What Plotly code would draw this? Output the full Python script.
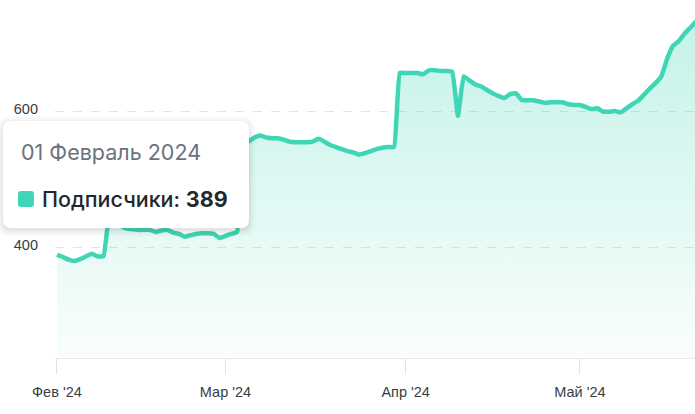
import plotly.graph_objects as go
import pandas as pd

# ---- data ----
start_date = "2024-02-01"
feb_values = [389, 386, 382, 380, 383, 387, 391, 387, 387, 445, 440, 432, 428, 427, 426,
              426, 426, 423, 425, 426, 422, 420, 416, 418, 420, 421, 421, 420, 414]
mar_values = [417, 420, 423, 553, 556, 562, 565, 562, 561, 561, 559, 556, 555, 555, 555,
              556, 560, 556, 551, 548, 545, 542, 540, 537, 539, 542, 545, 547, 548, 548, 657]
apr_values = [657, 657, 657, 655, 661, 661, 660, 660, 659, 594, 652, 646, 640, 637, 632,
              627, 623, 620, 626, 627, 617, 617, 617, 615, 613, 614, 614, 614, 611, 610]
may_values = [610, 607, 604, 605, 600, 600, 601, 599, 605, 611, 616, 625, 634, 642, 652,
              678, 697, 704, 715, 724, 733]
subscribers = feb_values + mar_values + apr_values + may_values
dates = pd.date_range(start_date, periods=len(subscribers), freq="D")

tick_dates = ["2024-02-01", "2024-03-01", "2024-04-01", "2024-05-01"]
tick_labels = ["Фев '24", "Мар '24", "Апр '24", "Май '24"]
series_name = "Подписчики"
tooltip_title = "01 Февраль 2024"

LINE = "rgb(62,214,181)"
W, H = 695, 414
ML, MR, MT, MB = 55, 0, 0, 56
PW, PH = W - ML - MR, H - MT - MB


def px(x):
    return (x - ML) / PW


def py(y):
    return (MT + PH - y) / PH


def rrect(x0, y0, x1, y1, r):
    rx, ry = r / PW, r / PH
    X0, X1, Y0, Y1 = px(x0), px(x1), py(y0), py(y1)  # Y0 top, Y1 bottom
    return (f"M {X0+rx},{Y0} L {X1-rx},{Y0} Q {X1},{Y0} {X1},{Y0-ry} "
            f"L {X1},{Y1+ry} Q {X1},{Y1} {X1-rx},{Y1} L {X0+rx},{Y1} "
            f"Q {X0},{Y1} {X0},{Y1+ry} L {X0},{Y0-ry} Q {X0},{Y0} {X0+rx},{Y0} Z")


fig = go.Figure()
fig.add_trace(go.Scatter(
    x=dates, y=subscribers, mode="lines", name=series_name,
    line=dict(color=LINE, width=4.5, shape="spline", smoothing=0.35),
    fill="tozeroy",
    fillgradient=dict(type="vertical",
                      colorscale=[[0, "rgba(62,214,181,0.03)"], [1, "rgba(62,214,181,0.32)"]],
                      start=237, stop=764),
    hoverinfo="skip",
))

shapes = []
# tooltip shadow
for e, a in [(7, 0.012), (5, 0.02), (3, 0.03), (1, 0.04)]:
    shapes.append(dict(type="path", xref="paper", yref="paper", layer="above",
                       path=rrect(3 - e, 121 - e + 2, 249 + e, 228 + e + 2, 8 + e),
                       fillcolor=f"rgba(0,0,0,{a})", line=dict(width=0)))
shapes.append(dict(type="path", xref="paper", yref="paper", layer="above",
                   path=rrect(3, 121, 249, 228, 8),
                   fillcolor="white", line=dict(width=0)))
shapes.append(dict(type="path", xref="paper", yref="paper", layer="above",
                   path=rrect(18, 191, 34, 207, 3),
                   fillcolor=LINE, line=dict(width=0)))

annotations = [
    dict(xref="paper", yref="paper", x=px(19), y=py(152), xanchor="left", yanchor="middle",
         text=tooltip_title, showarrow=False,
         font=dict(family="Inter", size=21.5, color="#6b7280")),
    dict(xref="paper", yref="paper", x=px(40), y=py(199), xanchor="left", yanchor="middle",
         text=f"{series_name}: <b>{subscribers[0]}</b>", showarrow=False,
         font=dict(family="Inter", size=21.5, color="#23272e", weight=500)),
]

fig.update_layout(
    width=W, height=H,
    margin=dict(l=ML, r=MR, t=MT, b=MB),
    paper_bgcolor="white", plot_bgcolor="white",
    showlegend=False, hovermode=False,
    shapes=shapes, annotations=annotations,
    font=dict(family="Liberation Sans", color="#373d3f"),
)
fig.update_xaxes(
    type="date",
    range=["2024-01-31 16:00", "2024-05-20 19:00"],
    tickmode="array", tickvals=tick_dates, ticktext=tick_labels,
    ticks="outside", ticklen=15, tickcolor="#e3e3e3", tickwidth=1,
    ticklabelstandoff=6,
    showline=True, linecolor="#e6e8ec", linewidth=1,
    showgrid=False, zeroline=False,
    tickfont=dict(family="Liberation Sans", size=14.5, color="#373d3f"),
)
fig.update_yaxes(
    range=[237.3, 764.5],
    tick0=0, dtick=200,
    showgrid=True, gridcolor="#e2e4e8", griddash="dash", gridwidth=1,
    zeroline=False, showline=False, ticks="",
    ticklabelstandoff=16, ticklabelshift=-3,
    tickfont=dict(family="Liberation Sans", size=14.5, color="#373d3f"),
)

fig.write_html(
    "out.html",
    config=dict(displayModeBar=False),
    post_script="document.body.style.margin='0';document.body.style.padding='0';",
)
